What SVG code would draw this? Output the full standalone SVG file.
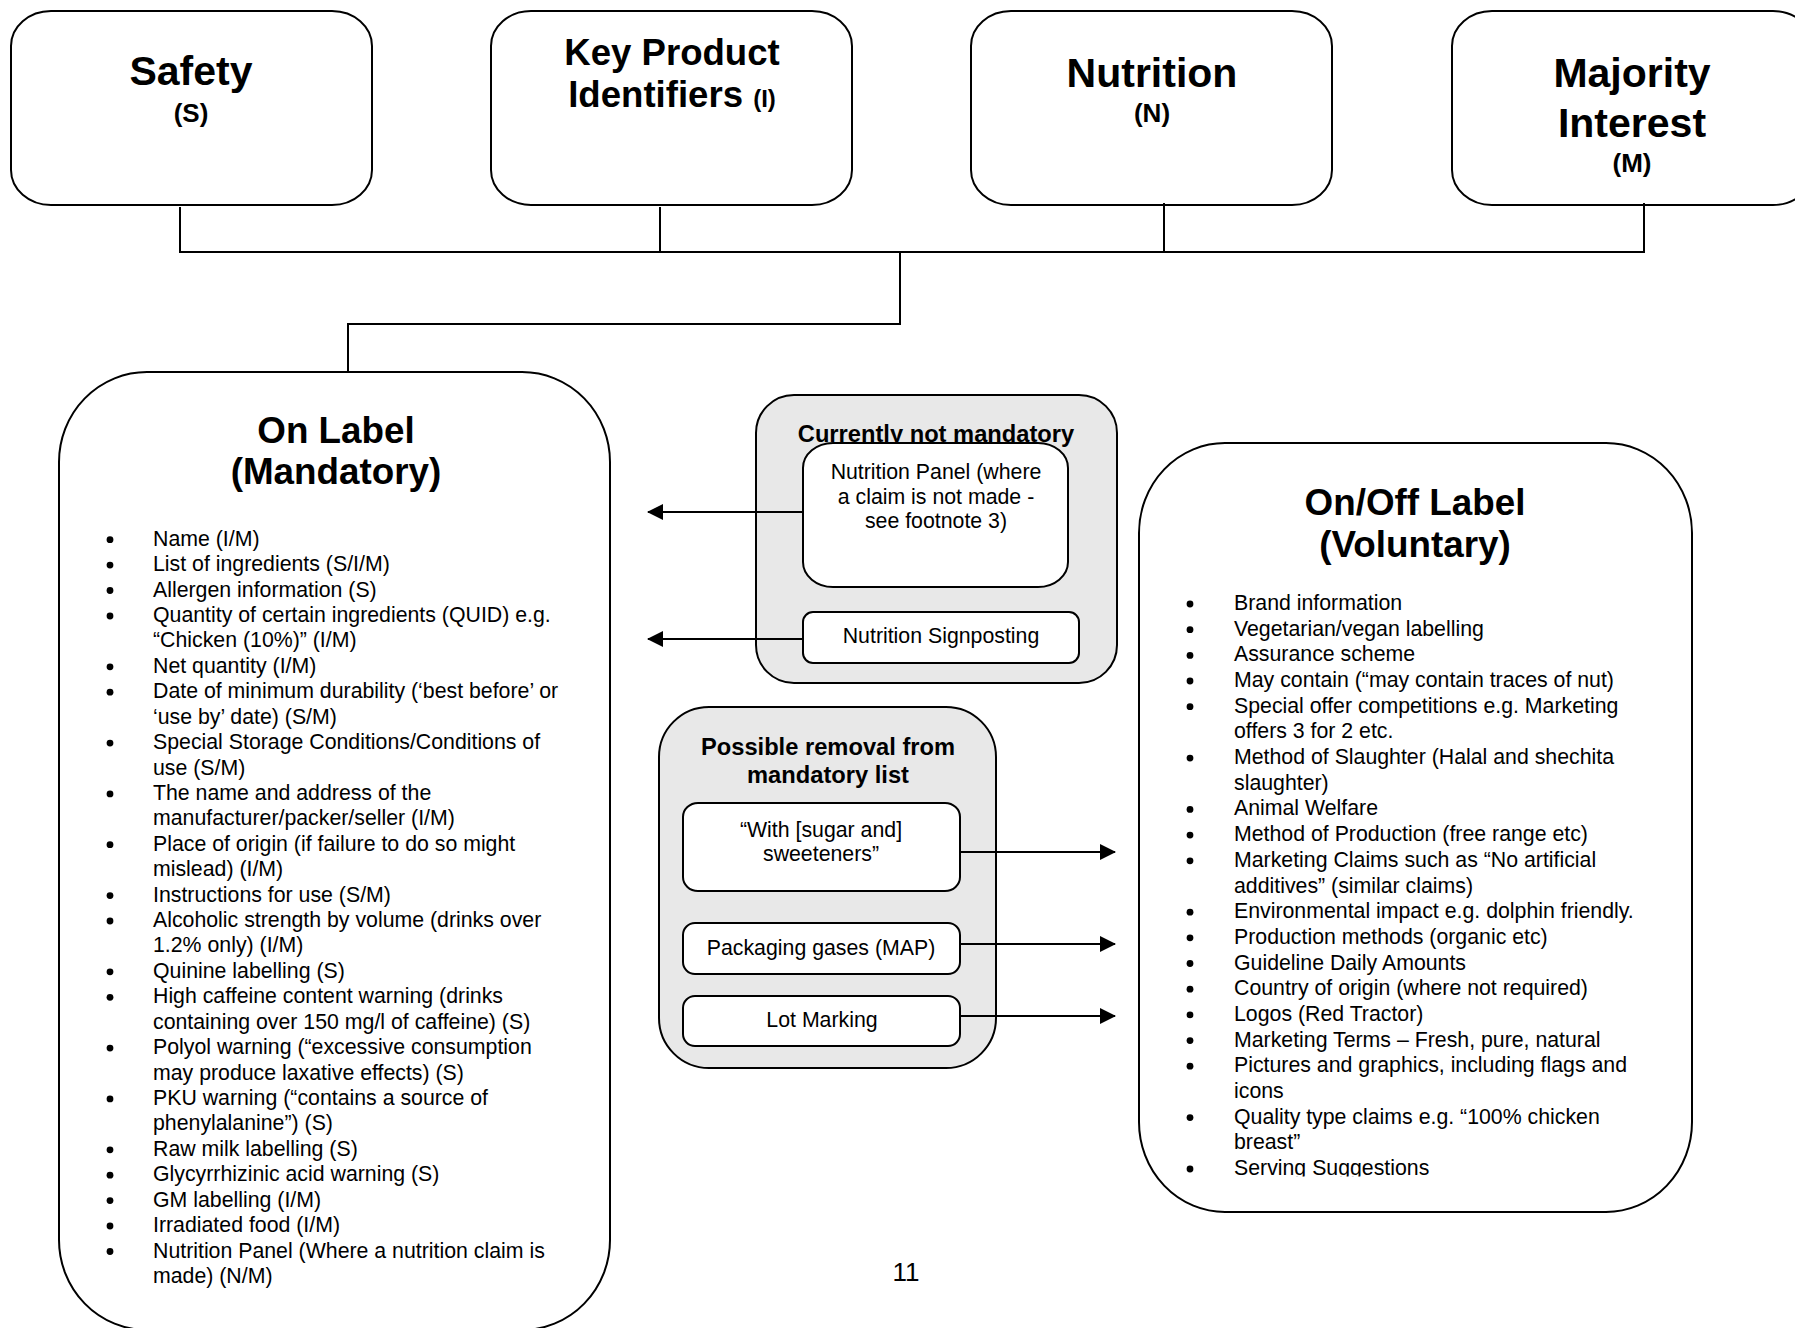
<svg xmlns="http://www.w3.org/2000/svg" width="1795" height="1328" viewBox="0 0 1795 1328">
<style>
  .box { fill: #ffffff; stroke: #000000; stroke-width: 2; }
  .grp { fill: #e8e8e8; stroke: #000000; stroke-width: 2; }
  .ibox { fill: #ffffff; stroke: #000000; stroke-width: 2; }
  .t { font-family: "Liberation Sans", Arial, sans-serif; fill: #000000; }
  .big { font-size: 41px; font-weight: bold; text-anchor: middle; }
  .kp { font-size: 36.6px; font-weight: bold; text-anchor: middle; }
  .sub { font-size: 26px; font-weight: bold; text-anchor: middle; }
  .title { font-size: 36.8px; font-weight: bold; text-anchor: middle; }
  .gt { font-size: 23.7px; font-weight: bold; text-anchor: middle; }
  .body { font-size: 21.3px; }
  .mid { font-size: 21.3px; text-anchor: middle; }
  .bul { fill: #000000; }
  .conn { fill: none; stroke: #000000; stroke-width: 2; }
  .page { font-size: 26px; text-anchor: middle; }
</style>
<defs>
  <marker id="ah" viewBox="0 0 16 16" refX="15" refY="8" markerWidth="16" markerHeight="16" markerUnits="userSpaceOnUse" orient="auto">
    <path d="M0,0 L16,8 L0,16 z" fill="#000000"/>
  </marker>
  <clipPath id="clipServ">
    <rect x="1140" y="1140" width="500" height="36.5"/>
  </clipPath>
</defs>

<g id="node-safety">
  <rect class="box" x="11" y="11" width="361" height="194" rx="40" ry="35"/>
  <text class="t big" x="191" y="85">Safety</text>
  <text class="t sub" x="191" y="122">(S)</text>
</g>

<g id="node-key-product">
  <rect class="box" x="491" y="11" width="361" height="194" rx="40" ry="35"/>
  <text class="t kp" x="672" y="65">Key Product</text>
  <text class="t kp" x="672" y="107">Identifiers <tspan font-size="24px">(I)</tspan></text>
</g>

<g id="node-nutrition">
  <rect class="box" x="971" y="11" width="361" height="194" rx="40" ry="35"/>
  <text class="t big" x="1152" y="87">Nutrition</text>
  <text class="t sub" x="1152" y="122">(N)</text>
</g>

<g id="node-majority">
  <rect class="box" x="1452" y="11" width="361" height="194" rx="40" ry="35"/>
  <text class="t big" x="1632" y="87">Majority</text>
  <text class="t big" x="1632" y="137">Interest</text>
  <text class="t sub" x="1632" y="172">(M)</text>
</g>

<g id="node-on-label">
  <rect class="box" x="59" y="372" width="551" height="958" rx="88" ry="90"/>
  <text class="t title" x="336" y="443">On Label</text>
  <text class="t title" x="336" y="484">(Mandatory)</text>
  <g class="bul">
    <circle cx="110" cy="539.7" r="3.4"/>
    <circle cx="110" cy="565.1" r="3.4"/>
    <circle cx="110" cy="590.5" r="3.4"/>
    <circle cx="110" cy="616.0" r="3.4"/>
    <circle cx="110" cy="666.8" r="3.4"/>
    <circle cx="110" cy="692.2" r="3.4"/>
    <circle cx="110" cy="743.1" r="3.4"/>
    <circle cx="110" cy="793.9" r="3.4"/>
    <circle cx="110" cy="844.7" r="3.4"/>
    <circle cx="110" cy="895.6" r="3.4"/>
    <circle cx="110" cy="921.0" r="3.4"/>
    <circle cx="110" cy="971.8" r="3.4"/>
    <circle cx="110" cy="997.3" r="3.4"/>
    <circle cx="110" cy="1048.1" r="3.4"/>
    <circle cx="110" cy="1098.9" r="3.4"/>
    <circle cx="110" cy="1149.8" r="3.4"/>
    <circle cx="110" cy="1175.2" r="3.4"/>
    <circle cx="110" cy="1200.6" r="3.4"/>
    <circle cx="110" cy="1226.0" r="3.4"/>
    <circle cx="110" cy="1251.5" r="3.4"/>
  </g>
  <text class="t body">
    <tspan x="153" y="545.7">Name (I/M)</tspan>
    <tspan x="153" y="571.1">List of ingredients (S/I/M)</tspan>
    <tspan x="153" y="596.5">Allergen information (S)</tspan>
    <tspan x="153" y="622.0">Quantity of certain ingredients (QUID) e.g.</tspan>
    <tspan x="153" y="647.4">“Chicken (10%)” (I/M)</tspan>
    <tspan x="153" y="672.8">Net quantity (I/M)</tspan>
    <tspan x="153" y="698.2">Date of minimum durability (‘best before’ or</tspan>
    <tspan x="153" y="723.6">‘use by’ date) (S/M)</tspan>
    <tspan x="153" y="749.1">Special Storage Conditions/Conditions of</tspan>
    <tspan x="153" y="774.5">use (S/M)</tspan>
    <tspan x="153" y="799.9">The name and address of the</tspan>
    <tspan x="153" y="825.3">manufacturer/packer/seller (I/M)</tspan>
    <tspan x="153" y="850.7">Place of origin (if failure to do so might</tspan>
    <tspan x="153" y="876.2">mislead) (I/M)</tspan>
    <tspan x="153" y="901.6">Instructions for use (S/M)</tspan>
    <tspan x="153" y="927.0">Alcoholic strength by volume (drinks over</tspan>
    <tspan x="153" y="952.4">1.2% only) (I/M)</tspan>
    <tspan x="153" y="977.8">Quinine labelling (S)</tspan>
    <tspan x="153" y="1003.3">High caffeine content warning (drinks</tspan>
    <tspan x="153" y="1028.7">containing over 150 mg/l of caffeine) (S)</tspan>
    <tspan x="153" y="1054.1">Polyol warning (“excessive consumption</tspan>
    <tspan x="153" y="1079.5">may produce laxative effects) (S)</tspan>
    <tspan x="153" y="1104.9">PKU warning (“contains a source of</tspan>
    <tspan x="153" y="1130.4">phenylalanine”) (S)</tspan>
    <tspan x="153" y="1155.8">Raw milk labelling (S)</tspan>
    <tspan x="153" y="1181.2">Glycyrrhizinic acid warning (S)</tspan>
    <tspan x="153" y="1206.6">GM labelling (I/M)</tspan>
    <tspan x="153" y="1232.0">Irradiated food (I/M)</tspan>
    <tspan x="153" y="1257.5">Nutrition Panel (Where a nutrition claim is</tspan>
    <tspan x="153" y="1282.9">made) (N/M)</tspan>
  </text>
</g>

<g id="node-currently-not-mandatory">
  <rect class="grp" x="756" y="395" width="361" height="288" rx="38" ry="38"/>
  <text class="t gt" x="936" y="441.7">Currently not mandatory</text>
  <g id="node-nutrition-panel">
    <rect class="ibox" x="803" y="443" width="265" height="144" rx="30" ry="25"/>
    <text class="t mid" x="936" y="479">Nutrition Panel (where</text>
    <text class="t mid" x="936" y="504">a claim is not made -</text>
    <text class="t mid" x="936" y="528">see footnote 3)</text>
  </g>
  <g id="node-nutrition-signposting">
    <rect class="ibox" x="803" y="612" width="276" height="51" rx="10" ry="10"/>
    <text class="t mid" x="941" y="643">Nutrition Signposting</text>
  </g>
</g>

<g id="node-possible-removal">
  <rect class="grp" x="659" y="707" width="337" height="361" rx="50" ry="50"/>
  <text class="t gt" x="828" y="755">Possible removal from</text>
  <text class="t gt" x="828" y="783">mandatory list</text>
  <g id="node-with-sugar">
    <rect class="ibox" x="683" y="803" width="277" height="88" rx="15" ry="14"/>
    <text class="t mid" x="821" y="837">“With [sugar and]</text>
    <text class="t mid" x="821" y="861">sweeteners”</text>
  </g>
  <g id="node-packaging-gases">
    <rect class="ibox" x="683" y="923" width="277" height="51" rx="12" ry="12"/>
    <text class="t mid" x="821" y="955">Packaging gases (MAP)</text>
  </g>
  <g id="node-lot-marking">
    <rect class="ibox" x="683" y="996" width="277" height="50" rx="12" ry="12"/>
    <text class="t mid" x="822" y="1027">Lot Marking</text>
  </g>
</g>

<g id="node-on-off-label">
  <rect class="box" x="1139" y="443" width="553" height="769" rx="86" ry="90"/>
  <text class="t title" x="1415" y="515">On/Off Label</text>
  <text class="t title" x="1415" y="557">(Voluntary)</text>
  <g class="bul">
    <circle cx="1190" cy="604.0" r="3.4"/>
    <circle cx="1190" cy="629.7" r="3.4"/>
    <circle cx="1190" cy="655.4" r="3.4"/>
    <circle cx="1190" cy="681.0" r="3.4"/>
    <circle cx="1190" cy="706.7" r="3.4"/>
    <circle cx="1190" cy="758.1" r="3.4"/>
    <circle cx="1190" cy="809.4" r="3.4"/>
    <circle cx="1190" cy="835.1" r="3.4"/>
    <circle cx="1190" cy="860.8" r="3.4"/>
    <circle cx="1190" cy="912.2" r="3.4"/>
    <circle cx="1190" cy="937.8" r="3.4"/>
    <circle cx="1190" cy="963.5" r="3.4"/>
    <circle cx="1190" cy="989.2" r="3.4"/>
    <circle cx="1190" cy="1014.9" r="3.4"/>
    <circle cx="1190" cy="1040.6" r="3.4"/>
    <circle cx="1190" cy="1066.2" r="3.4"/>
    <circle cx="1190" cy="1117.6" r="3.4"/>
    <circle cx="1190" cy="1169.0" r="3.4"/>
  </g>
  <text class="t body">
    <tspan x="1234" y="610.0">Brand information</tspan>
    <tspan x="1234" y="635.7">Vegetarian/vegan labelling</tspan>
    <tspan x="1234" y="661.4">Assurance scheme</tspan>
    <tspan x="1234" y="687.0">May contain (“may contain traces of nut)</tspan>
    <tspan x="1234" y="712.7">Special offer competitions e.g. Marketing</tspan>
    <tspan x="1234" y="738.4">offers 3 for 2 etc.</tspan>
    <tspan x="1234" y="764.1">Method of Slaughter (Halal and shechita</tspan>
    <tspan x="1234" y="789.8">slaughter)</tspan>
    <tspan x="1234" y="815.4">Animal Welfare</tspan>
    <tspan x="1234" y="841.1">Method of Production (free range etc)</tspan>
    <tspan x="1234" y="866.8">Marketing Claims such as “No artificial</tspan>
    <tspan x="1234" y="892.5">additives” (similar claims)</tspan>
    <tspan x="1234" y="918.2">Environmental impact e.g. dolphin friendly.</tspan>
    <tspan x="1234" y="943.8">Production methods (organic etc)</tspan>
    <tspan x="1234" y="969.5">Guideline Daily Amounts</tspan>
    <tspan x="1234" y="995.2">Country of origin (where not required)</tspan>
    <tspan x="1234" y="1020.9">Logos (Red Tractor)</tspan>
    <tspan x="1234" y="1046.6">Marketing Terms – Fresh, pure, natural</tspan>
    <tspan x="1234" y="1072.2">Pictures and graphics, including flags and</tspan>
    <tspan x="1234" y="1097.9">icons</tspan>
    <tspan x="1234" y="1123.6">Quality type claims e.g. “100% chicken</tspan>
    <tspan x="1234" y="1149.3">breast”</tspan>
  </text>
  <text class="t body" x="1234" y="1175.0" clip-path="url(#clipServ)">Serving Suggestions</text>
</g>

<g id="page-number">
  <text class="t page" x="906" y="1281">11</text>
</g>

<g id="connectors">
  <path class="conn" d="M180,207 V252 M660,207 V252 M1164,203 V252 M1644,203 V252 M179,252 H1645"/>
  <path class="conn" d="M900,252 V324 H348 V372"/>
  <path class="conn" d="M803,512 H648" marker-end="url(#ah)"/>
  <path class="conn" d="M803,639 H648" marker-end="url(#ah)"/>
  <path class="conn" d="M960,852 H1115" marker-end="url(#ah)"/>
  <path class="conn" d="M960,944 H1115" marker-end="url(#ah)"/>
  <path class="conn" d="M960,1016 H1115" marker-end="url(#ah)"/>
</g>
</svg>
